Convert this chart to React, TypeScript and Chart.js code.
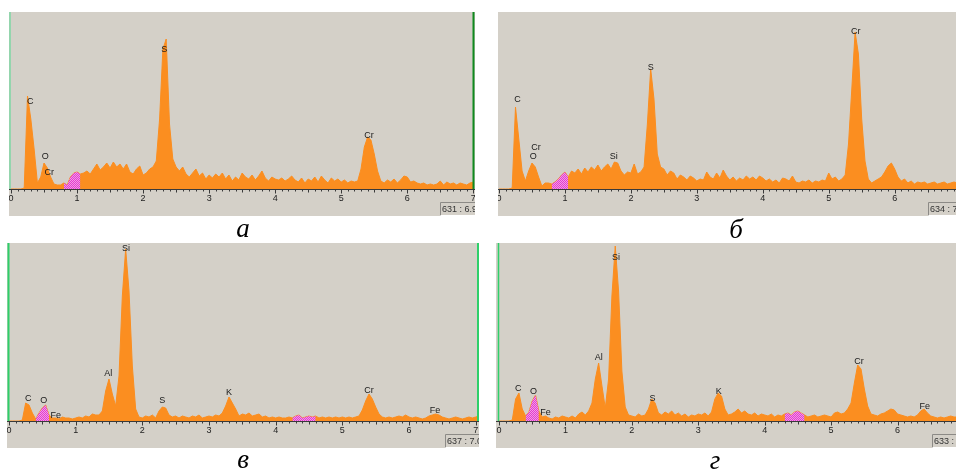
import React, { useEffect, useRef } from 'react';
import { Chart, registerables } from 'chart.js';
Chart.register(...registerables);

// Energy grid step (keV) shared by all spectra; spectra start at 0 keV
const STEP = 0.05;

// Spectrum counts (arbitrary units), one value per 0.05 keV from 0.00 to 7.05
const SPEC_A = [
  0, 0, 0, 0, 1, 93, 70, 40, 6, 12,
  26, 21, 12, 5, 4, 4, 6, 4, 12, 16,
  17, 15, 16, 18, 15, 20, 25, 19, 22, 26,
  21, 27, 22, 25, 20, 25, 17, 15, 20, 23,
  14, 16, 20, 22, 28, 70, 140, 150, 65, 30,
  22, 18, 22, 15, 12, 16, 20, 13, 16, 10,
  14, 11, 15, 12, 16, 10, 14, 8, 12, 9,
  16, 12, 10, 14, 9, 13, 18, 11, 8, 12,
  10, 9, 11, 8, 10, 13, 9, 7, 11, 6,
  10, 8, 12, 7, 13, 9, 6, 11, 8, 10,
  7, 9, 6, 8, 7, 8, 20, 42, 52, 49,
  35, 18, 8, 6, 9, 7, 10, 6, 9, 13,
  12, 7, 8, 6, 5, 6, 4, 5, 4, 5,
  8, 4, 7, 5, 6, 4, 6, 5, 4, 6,
  7, 5,
];
const SPEC_B = [
  0, 0, 0, 0, 1, 82, 50, 18, 8, 18,
  26, 22, 12, 3, 6, 6, 5, 7, 10, 14,
  17, 12, 18, 16, 20, 15, 21, 17, 22, 19,
  24, 18, 22, 25, 20, 27, 26, 18, 14, 17,
  16, 25, 15, 17, 22, 65, 120, 90, 35, 22,
  20, 14, 18, 16, 10, 14, 12, 9, 13, 11,
  8, 10, 9, 17, 12, 10, 16, 11, 19, 13,
  9, 12, 8, 11, 9, 13, 10, 12, 9, 13,
  11, 8, 10, 7, 9, 6, 11, 10, 8, 13,
  7, 6, 8, 7, 9, 6, 8, 7, 9, 8,
  16, 10, 12, 8, 10, 14, 45, 100, 157, 135,
  70, 28, 10, 6, 8, 10, 12, 17, 23, 26,
  20, 12, 8, 10, 6, 8, 5, 7, 6, 7,
  5, 6, 7, 5, 6, 7, 5, 6, 7, 6,
  5, 5,
];
const SPEC_C = [
  0, 0, 0, 0, 1, 18, 16, 8, 2, 8,
  13, 16, 6, 3, 3, 2, 4, 3, 3, 2,
  3, 4, 3, 5, 4, 7, 6, 6, 10, 30,
  42, 27, 15, 45, 125, 172, 130, 55, 12, 4,
  3, 5, 4, 6, 3, 10, 14, 13, 6, 4,
  5, 3, 5, 4, 3, 5, 4, 6, 3, 4,
  5, 4, 6, 5, 8, 15, 24, 18, 12, 5,
  7, 6, 8, 5, 6, 7, 4, 5, 3, 4,
  3, 4, 3, 3, 4, 3, 5, 6, 3, 4,
  5, 4, 5, 3, 4, 3, 4, 3, 4, 3,
  4, 3, 4, 3, 4, 5, 11, 20, 27, 22,
  14, 7, 4, 3, 4, 3, 4, 5, 4, 6,
  4, 3, 4, 3, 2, 3, 5, 6, 7, 6,
  4, 3, 2, 3, 4, 3, 2, 3, 4, 3,
  4, 5,
];
const SPEC_D = [
  0, 0, 0, 0, 1, 22, 28, 12, 5, 9,
  20, 26, 10, 4, 5, 3, 2, 4, 3, 5,
  4, 3, 5, 3, 7, 9, 6, 10, 18, 42,
  58, 35, 13, 42, 125, 175, 130, 50, 14, 6,
  5, 4, 7, 5, 6, 12, 22, 18, 8, 6,
  9, 7, 10, 6, 8, 5, 7, 4, 6, 5,
  7, 6, 8, 5, 9, 22, 28, 25, 12, 6,
  7, 9, 12, 8, 10, 7, 6, 8, 5, 7,
  6, 5, 7, 4, 6, 5, 7, 8, 6, 9,
  10, 8, 6, 4, 5, 6, 4, 5, 6, 5,
  4, 8, 9, 7, 8, 12, 18, 38, 56, 52,
  32, 15, 7, 6, 5, 7, 8, 10, 12, 11,
  7, 6, 5, 4, 5, 4, 6, 10, 12, 8,
  5, 4, 3, 4, 3, 4, 5, 4, 4, 5,
  4, 4,
];

// Highlighted (pink) energy windows, keV
const PINK_A = [[0.8, 1.05]];
const PINK_B = [[0.8, 1.05]];
const PINK_C = [[0.4, 0.6], [4.25, 4.6]];
const PINK_D = [[0.4, 0.6], [4.3, 4.6]];

// Peak labels: element, energy (keV), label height (counts)
const NAMES_A = ['C', 'O', 'Cr', 'S', 'Cr'];
const NAME_E_A = [0.29, 0.52, 0.58, 2.32, 5.42];
const NAME_H_A = [87, 32, 16, 139, 53];
const NAMES_B = ['C', 'Cr', 'O', 'Si', 'S', 'Cr'];
const NAME_E_B = [0.28, 0.56, 0.52, 1.74, 2.3, 5.41];
const NAME_H_B = [89, 41, 32, 32, 121, 157];
const NAMES_C = ['C', 'O', 'Fe', 'Al', 'Si', 'S', 'K', 'Cr', 'Fe'];
const NAME_E_C = [0.29, 0.52, 0.7, 1.49, 1.755, 2.3, 3.3, 5.4, 6.39];
const NAME_H_C = [22.7, 20, 5, 47, 172, 20, 28, 30, 10];
const NAMES_D = ['C', 'O', 'Fe', 'Al', 'Si', 'S', 'K', 'Cr', 'Fe'];
const NAME_E_D = [0.29, 0.52, 0.7, 1.5, 1.76, 2.31, 3.31, 5.42, 6.41];
const NAME_H_D = [32, 29, 8, 63, 163, 22, 29, 59, 14];

// Axis tick labels (keV)
const TICK_LABELS = ['0', '1', '2', '3', '4', '5', '6', '7'];

// Status readouts and panel captions
const READOUTS = ['631 : 6.98', '634 : 7.00', '637 : 7.05', '633 : 7.00'];
const CAPTIONS = ['а', 'б', 'в', 'г'];

const GRAY = '#d4d0c8';
const ORANGE = '#fb8e20';
const SMALL_FONT = '9px "Liberation Sans", Arial, sans-serif';

type PanelCfg = {
  spec: number[];
  pink: number[][];
  names: string[];
  nameE: number[];
  nameH: number[];
  box: { l: number; t: number; w: number; h: number };
  pad: { l: number; r: number; b: number };
  xMax: number;
  yMax: number;
  readout: string;
  ro: { x: number; y: number; w: number; h: number };
  greens: { x: number; c: string; w: number }[];
};

const PANELS: PanelCfg[] = [
  {
    spec: SPEC_A, pink: PINK_A, names: NAMES_A, nameE: NAME_E_A, nameH: NAME_H_A,
    box: { l: 9, t: 12, w: 466, h: 204 }, pad: { l: 2, r: 1.7, b: 27 },
    xMax: 7, yMax: 177, readout: READOUTS[0], ro: { x: 431, y: 190, w: 40, h: 13 },
    greens: [{ x: 1, c: '#7fd6a4', w: 1.5 }, { x: 464.5, c: '#0f8a1e', w: 2 }],
  },
  {
    spec: SPEC_B, pink: PINK_B, names: NAMES_B, nameE: NAME_E_B, nameH: NAME_H_B,
    box: { l: 498, t: 12, w: 458, h: 204 }, pad: { l: 1, r: 0, b: 27 },
    xMax: 6.93, yMax: 177, readout: READOUTS[1], ro: { x: 430, y: 190, w: 40, h: 13 },
    greens: [],
  },
  {
    spec: SPEC_C, pink: PINK_C, names: NAMES_C, nameE: NAME_E_C, nameH: NAME_H_C,
    box: { l: 7, t: 243, w: 472, h: 205 }, pad: { l: 2, r: 0, b: 27 },
    xMax: 7.05, yMax: 178, readout: READOUTS[2], ro: { x: 438, y: 191, w: 34, h: 13 },
    greens: [{ x: 1.5, c: '#2fcf6a', w: 2 }, { x: 471, c: '#2fcf6a', w: 2 }],
  },
  {
    spec: SPEC_D, pink: PINK_D, names: NAMES_D, nameE: NAME_E_D, nameH: NAME_H_D,
    box: { l: 496, t: 243, w: 460, h: 205 }, pad: { l: 3, r: 0, b: 27 },
    xMax: 6.88, yMax: 178, readout: READOUTS[3], ro: { x: 436, y: 191, w: 40, h: 13 },
    greens: [{ x: 2.5, c: '#2fcf6a', w: 1.5 }],
  },
];

function makePattern(ctx: CanvasRenderingContext2D) {
  const pc = document.createElement('canvas');
  pc.width = 2;
  pc.height = 2;
  const p = pc.getContext('2d')!;
  p.fillStyle = '#f49ae6';
  p.fillRect(0, 0, 2, 2);
  p.fillStyle = '#e23ccf';
  p.fillRect(0, 0, 1, 1);
  p.fillRect(1, 1, 1, 1);
  return ctx.createPattern(pc, 'repeat') as CanvasPattern;
}

function Panel({ cfg }: { cfg: PanelCfg }) {
  const ref = useRef<HTMLCanvasElement | null>(null);
  useEffect(() => {
    const canvas = ref.current!;
    const ctx = canvas.getContext('2d')!;
    const pts = cfg.spec.map((v, i) => ({ x: +(i * STEP).toFixed(2), y: v }));
    const pattern = makePattern(ctx);
    const pinkSets = cfg.pink.map((r) => ({
      data: pts.filter((p) => p.x >= r[0] - 1e-6 && p.x <= r[1] + 1e-6),
      fill: 'origin',
      backgroundColor: pattern,
      borderColor: 'rgba(0,0,0,0)',
      borderWidth: 0,
      pointRadius: 0,
      tension: 0,
    }));

    const deco = {
      id: 'deco',
      beforeDraw(chart: any) {
        const c = chart.ctx;
        c.save();
        c.fillStyle = GRAY;
        c.fillRect(0, 0, chart.width, chart.height);
        c.restore();
      },
      afterDatasetsDraw(chart: any) {
        const c = chart.ctx;
        const xs = chart.scales.x;
        const ys = chart.scales.y;
        const area = chart.chartArea;
        c.save();
        // peak labels
        c.font = SMALL_FONT;
        c.fillStyle = '#1a1a1a';
        c.textAlign = 'center';
        c.textBaseline = 'middle';
        cfg.names.forEach((n, i) => {
          c.fillText(n, xs.getPixelForValue(cfg.nameE[i]), ys.getPixelForValue(cfg.nameH[i]));
        });
        // green markers
        cfg.greens.forEach((g) => {
          c.fillStyle = g.c;
          c.fillRect(g.x - g.w / 2, 0, g.w, area.bottom);
        });
        // axis
        const yb = Math.round(area.bottom) + 0.5;
        c.strokeStyle = '#3a3a3a';
        c.lineWidth = 1;
        c.beginPath();
        c.moveTo(0, yb);
        c.lineTo(chart.width, yb);
        c.stroke();
        const n = Math.floor(cfg.xMax * 10 + 1e-6);
        c.beginPath();
        for (let i = 0; i <= n; i++) {
          const px = Math.round(xs.getPixelForValue(i / 10)) + 0.5;
          const len = i % 10 === 0 ? 4 : i % 5 === 0 ? 3 : 2;
          c.moveTo(px, yb);
          c.lineTo(px, yb + len);
        }
        c.stroke();
        c.fillStyle = '#222';
        c.font = SMALL_FONT;
        TICK_LABELS.forEach((t, i) => {
          if (i <= cfg.xMax + 0.05) {
            c.fillText(t, xs.getPixelForValue(i), yb + 9);
          }
        });
        // readout box
        const r = cfg.ro;
        c.strokeStyle = '#8c8a86';
        c.beginPath();
        c.moveTo(r.x + 0.5, r.y + r.h + 0.5);
        c.lineTo(r.x + 0.5, r.y + 0.5);
        c.lineTo(r.x + r.w + 0.5, r.y + 0.5);
        c.stroke();
        c.strokeStyle = '#ffffff';
        c.beginPath();
        c.moveTo(r.x + 0.5, r.y + r.h + 0.5);
        c.lineTo(r.x + r.w + 0.5, r.y + r.h + 0.5);
        c.lineTo(r.x + r.w + 0.5, r.y + 0.5);
        c.stroke();
        c.save();
        c.beginPath();
        c.rect(r.x + 1, r.y + 1, r.w - 1, r.h - 1);
        c.clip();
        c.fillStyle = '#333';
        c.textAlign = 'left';
        c.font = SMALL_FONT;
        c.fillText(cfg.readout, r.x + 2, r.y + r.h / 2 + 1);
        c.restore();
        c.restore();
      },
    };

    const chart = new Chart(ctx, {
      type: 'line',
      data: {
        datasets: [
          ...pinkSets,
          {
            data: pts,
            fill: 'origin',
            backgroundColor: ORANGE,
            borderColor: ORANGE,
            borderWidth: 1,
            pointRadius: 0,
            tension: 0,
          },
        ] as any,
      },
      options: {
        animation: false,
        responsive: false,
        events: [],
        devicePixelRatio: 1,
        layout: { padding: { left: cfg.pad.l, right: cfg.pad.r, top: 0, bottom: cfg.pad.b } },
        plugins: { legend: { display: false }, tooltip: { enabled: false } },
        scales: {
          x: { type: 'linear', min: 0, max: cfg.xMax, display: false },
          y: { type: 'linear', min: 0, max: cfg.yMax, display: false },
        },
      } as any,
      plugins: [deco],
    });
    return () => chart.destroy();
  }, [cfg]);
  return (
    <canvas
      ref={ref}
      width={cfg.box.w}
      height={cfg.box.h}
      style={{ position: 'absolute', left: cfg.box.l, top: cfg.box.t, width: cfg.box.w, height: cfg.box.h }}
    />
  );
}

const CAPTION_POS = [
  { x: 243, top: 215 },
  { x: 736, top: 216 },
  { x: 243, top: 446 },
  { x: 715, top: 447 },
];

export default function App() {
  return (
    <div
      style={{
        position: 'fixed',
        left: 0,
        top: 0,
        width: 956,
        height: 470,
        background: '#ffffff',
        overflow: 'hidden',
      }}
    >
      {PANELS.map((p, i) => (
        <Panel key={i} cfg={p} />
      ))}
      {CAPTIONS.map((c, i) => (
        <div
          key={'c' + i}
          style={{
            position: 'absolute',
            left: CAPTION_POS[i].x - 30,
            top: CAPTION_POS[i].top,
            width: 60,
            textAlign: 'center',
            fontFamily: '"Liberation Serif", "Times New Roman", serif',
            fontStyle: 'italic',
            fontSize: 27,
            lineHeight: '27px',
            color: '#000',
          }}
        >
          {c}
        </div>
      ))}
    </div>
  );
}
